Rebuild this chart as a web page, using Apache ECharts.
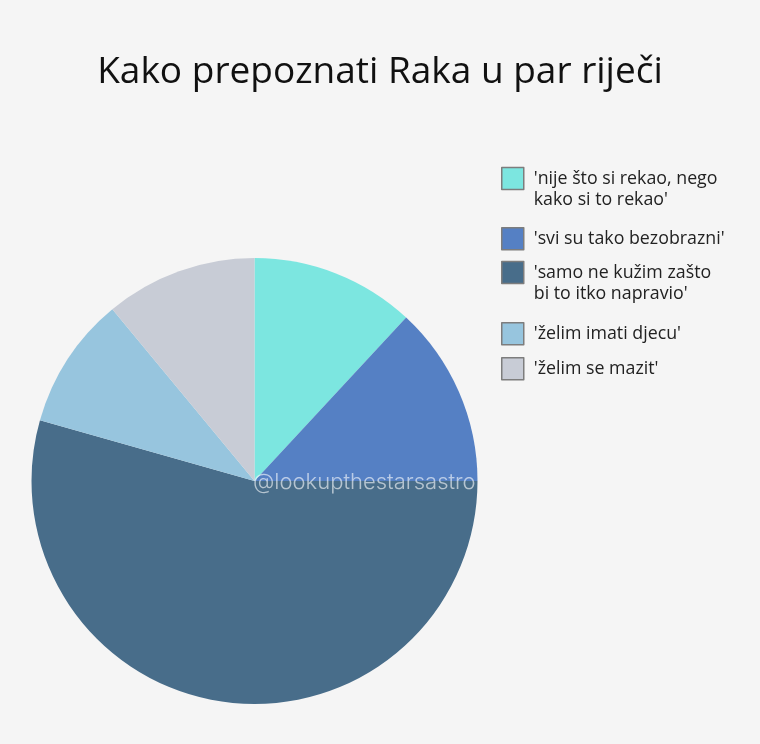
<!DOCTYPE html>
<html lang="hr">
<head>
    <meta charset="UTF-8">
    <title>Kako prepoznati Raka u par riječi</title>
    <style>
        html, body { margin: 0; padding: 0; background: #f5f5f5; }
        #container { width: 760px; height: 744px; }
    </style>
</head>
<body>
    <div id="container"></div>
    <script src="https://cdn.jsdelivr.net/npm/echarts@6/dist/echarts.min.js"></script>
    <script>
        var names = [
            "'nije što si rekao, nego\nkako si to rekao'",
            "'svi su tako bezobrazni'",
            "'samo ne kužim zašto\nbi to itko napravio'",
            "'želim imati djecu'",
            "'želim se mazit'"
        ];
        var values = [11.9, 13.1, 54.4, 9.6, 11.0];
        var colors = ['#7ce6e0', '#5580c4', '#486d8a', '#97c5de', '#c8ccd6'];
        var legendTops = [168, 227, 262, 322, 357];

        var myChart = echarts.init(document.getElementById('container'));

        // one legend per entry; a blank first line keeps line 1 level with the box
        var legends = names.map(function (name, i) {
            var twoLines = name.indexOf('\n') >= 0;
            return {
                left: 501,
                top: twoLines ? legendTops[i] - 21 : legendTops[i],
                padding: 0,
                orient: 'vertical',
                itemWidth: 22,
                itemHeight: 22,
                selectedMode: false,
                formatter: function (n) {
                    return n.indexOf('\n') >= 0 ? ' \n' + n : n;
                },
                data: [{
                    name: name,
                    icon: 'rect',
                    itemStyle: { borderColor: '#7d7d7d', borderWidth: 1.5 }
                }],
                textStyle: {
                    fontFamily: 'Open Sans',
                    fontSize: 17.8,
                    lineHeight: 21,
                    color: '#222',
                    padding: [0, 0, 0, 5]
                }
            };
        });

        var option = {
            backgroundColor: '#f5f5f5',
            color: colors,
            title: {
                text: 'Kako prepoznati Raka u par riječi',
                left: 'center',
                top: 49,
                textStyle: {
                    fontFamily: 'Open Sans',
                    fontSize: 37,
                    fontWeight: 'normal',
                    color: '#111'
                }
            },
            legend: legends,
            graphic: [{
                type: 'text',
                left: 253,
                top: 471,
                z: 100,
                style: {
                    text: '@lookupthestarsastro',
                    fontFamily: 'Inter',
                    fontWeight: 300,
                    fontSize: 22,
                    fill: 'rgba(255,255,255,0.6)'
                }
            }],
            series: [{
                type: 'pie',
                center: [254.5, 481],
                radius: 223,
                startAngle: 90,
                clockwise: true,
                label: { show: false },
                labelLine: { show: false },
                emphasis: { disabled: true },
                animation: false,
                data: names.map(function (n, i) {
                    return { name: n, value: values[i] };
                })
            }]
        };

        myChart.setOption(option);
    </script>
</body>
</html>
